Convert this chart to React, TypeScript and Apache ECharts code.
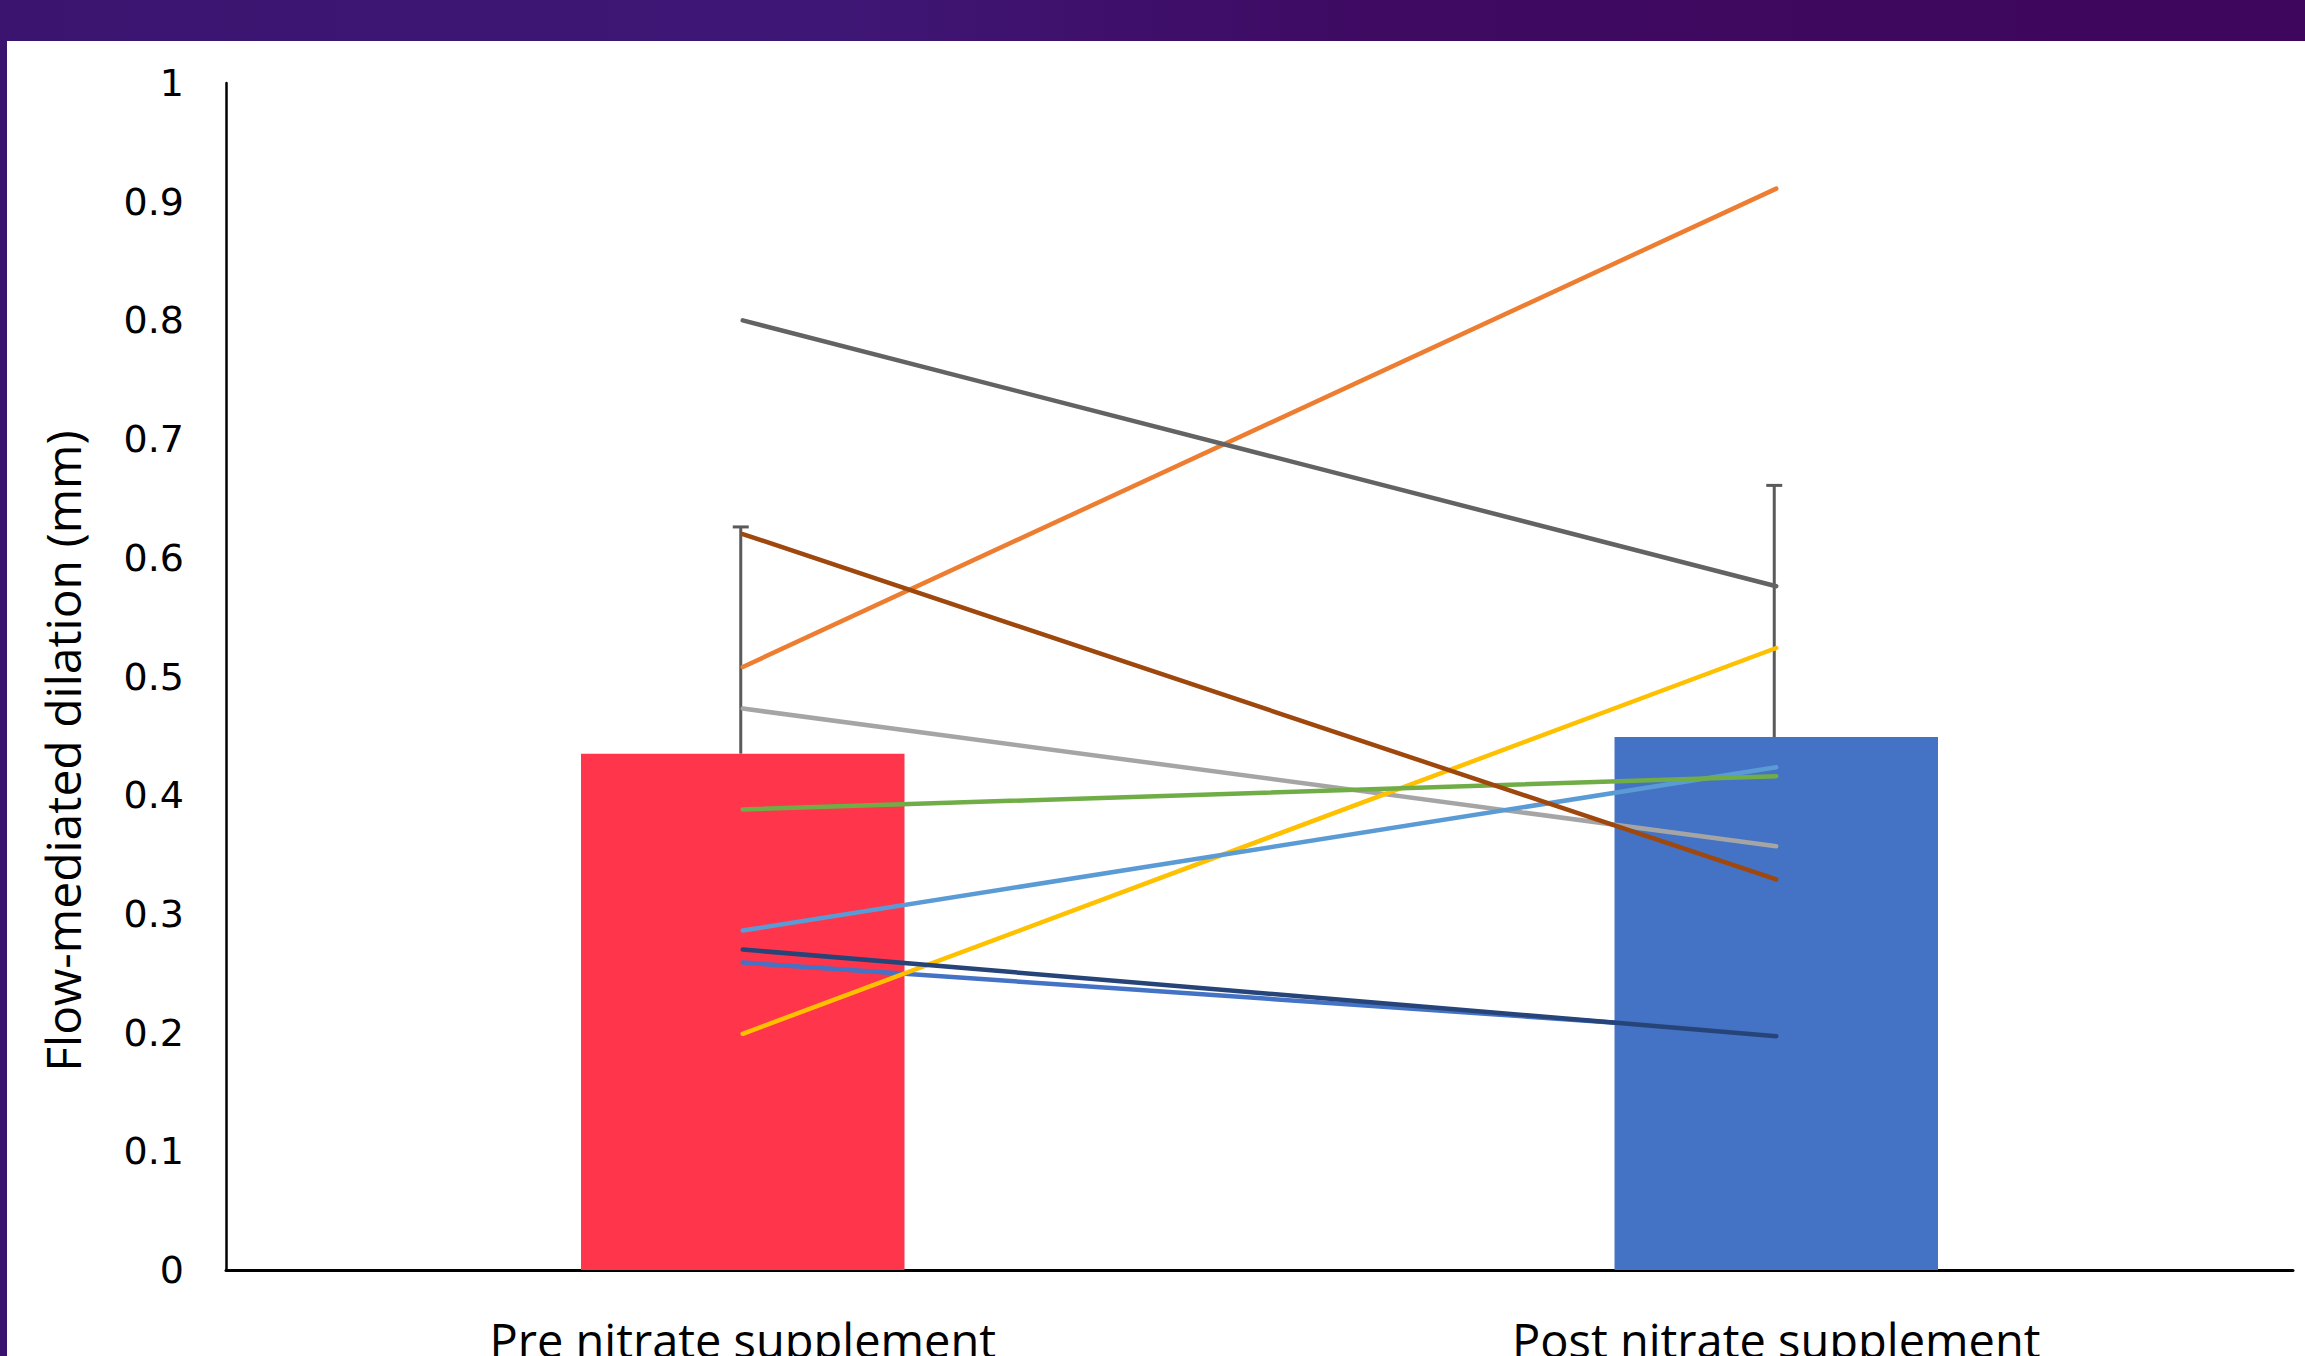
import React, { useEffect, useRef } from "react";
import * as echarts from "echarts";

const categories = ["Pre nitrate supplement", "Post nitrate supplement"];
const meanValues = [0.435, 0.449];
const errorTops = [0.626, 0.661];
const barColors = ["#FE354B", "#4472C4"];

const subjectNames = ["S1", "S2", "S3", "S4", "S5", "S6", "S7", "S8", "S9"];
const subjectPre = [0.259, 0.508, 0.473, 0.199, 0.286, 0.388, 0.270, 0.620, 0.800];
const subjectPost = [0.199, 0.911, 0.357, 0.524, 0.4235, 0.416, 0.197, 0.329, 0.576];
const subjectColors = ["#4472C4", "#ED7D31", "#A5A5A5", "#FFC000", "#5B9BD5", "#70AD47", "#264478", "#9E480E", "#636363"];

const yTicks = [0, 0.1, 0.2, 0.3, 0.4, 0.5, 0.6, 0.7, 0.8, 0.9, 1];
const yTitle = "Flow-mediated dilation (mm)";

export default function App() {
  const ref = useRef<HTMLDivElement>(null);
  useEffect(() => {
    if (!ref.current) return;
    const chart = echarts.init(ref.current, null, { renderer: "svg" });
    const lineSeries = subjectNames.map((n, i) => ({
      name: n,
      type: "line",
      data: [subjectPre[i], subjectPost[i]],
      symbol: "none",
      z: 5,
      lineStyle: { color: subjectColors[i], width: 4.5, cap: "round" },
      silent: true,
    }));
    chart.setOption({
      animation: false,
      backgroundColor: "#ffffff",
      graphic: [
        {
          type: "rect",
          left: 0,
          top: 0,
          shape: { width: 2305, height: 41 },
          style: {
            fill: new echarts.graphic.LinearGradient(0, 0, 1, 0, [
              { offset: 0, color: "#3B1470" },
              { offset: 0.35, color: "#3E1776" },
              { offset: 0.6, color: "#3E0A62" },
              { offset: 1, color: "#3E065C" },
            ]),
          },
          z: 100,
        },
        {
          type: "rect",
          left: 0,
          top: 40,
          shape: { width: 7, height: 1316 },
          style: { fill: "#3B1270" },
          z: 100,
        },
        {
          type: "text",
          x: 62,
          y: 751,
          rotation: Math.PI / 2,
          style: {
            text: yTitle,
            fontFamily: "Open Sans",
            fontSize: 48,
            fill: "#000",
            align: "center",
            verticalAlign: "middle",
          },
          z: 50,
        },
      ],
      grid: { left: 226, right: 12, top: 83, bottom: 86, containLabel: false, outerBoundsMode: "none" },
      xAxis: {
        type: "category",
        data: categories,
        boundaryGap: true,
        axisLine: { lineStyle: { color: "#000", width: 3 } },
        axisTick: { show: false },
        axisLabel: {
          margin: 46,
          fontFamily: "Open Sans",
          fontSize: 47,
          color: "#000",
          verticalAlign: "top",
        },
      },
      yAxis: {
        type: "value",
        min: 0,
        max: 1,
        interval: 0.1,
        axisLine: { show: true, lineStyle: { color: "#000", width: 2.5 } },
        axisTick: { show: false },
        splitLine: { show: false },
        axisLabel: {
          margin: 42,
          fontFamily: "DejaVu Sans",
          fontSize: 38,
          color: "#000",
          formatter: (v: number) => {
            const t = yTicks.find((k) => Math.abs(k - v) < 1e-6);
            return t === undefined ? "" : String(t);
          },
        },
      },
      series: [
        {
          type: "bar",
          data: meanValues.map((v, i) => ({ value: v, itemStyle: { color: barColors[i] } })),
          barWidth: "31.3%",
          z: 2,
          silent: true,
        },
        {
          type: "custom",
          z: 3,
          silent: true,
          data: meanValues.map((v, i) => [i, v, errorTops[i]]),
          encode: { x: 0, y: [1, 2] },
          renderItem: (params: any, api: any) => {
            const base = api.coord([api.value(0), api.value(1)]);
            const top = api.coord([api.value(0), api.value(2)]);
            const style = { stroke: "#5A5A5A", lineWidth: 3 };
            return {
              type: "group",
              children: [
                { type: "line", shape: { x1: base[0] - 2, y1: base[1], x2: top[0] - 2, y2: top[1] }, style },
                { type: "line", shape: { x1: top[0] - 10, y1: top[1], x2: top[0] + 6, y2: top[1] }, style },
              ],
            };
          },
        },
        ...lineSeries,
      ],
    });
    return () => chart.dispose();
  }, []);
  return <div ref={ref} style={{ position: "fixed", left: 0, top: 0, width: 2305, height: 1356 }} />;
}
